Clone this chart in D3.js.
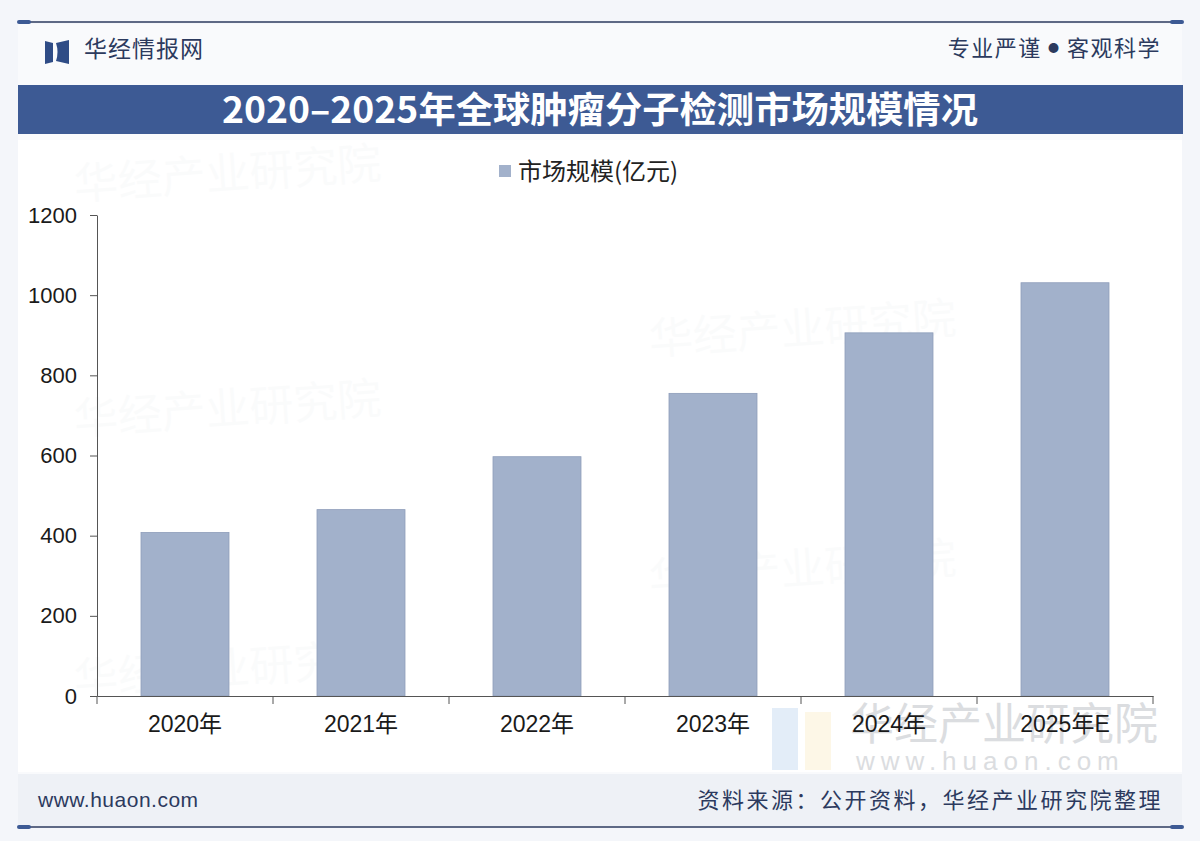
<!DOCTYPE html>
<html>
<head>
<meta charset="utf-8">
<script src="https://cdn.jsdelivr.net/npm/d3@7"></script>
<style>
  body { margin: 0; background: #f4f6fa; }
  svg { display: block; }
</style>
</head>
<body>
<svg id="chart" width="1200" height="841"></svg>
<script>
// data
const years = ['2020年', '2021年', '2022年', '2023年', '2024年', '2025年E']
const marketSize = [408, 465, 597, 755, 906, 1031]
const yTicks = [0, 200, 400, 600, 800, 1000, 1200]
const seriesName = '市场规模(亿元)'

const cjk = '"Noto Sans CJK SC", sans-serif'
const latin = '"Liberation Sans", "Noto Sans CJK SC", sans-serif'
const navy = '#2c3a5e'

let svg = d3.select('#chart')

// page background + white content area
svg.append('rect').attr('width', 1200).attr('height', 841).attr('fill', '#f4f6fa')
svg.append('rect').attr('x', 18).attr('y', 24).attr('width', 1164).attr('height', 802).attr('fill', '#f9fafc')
svg.append('rect').attr('x', 18).attr('y', 140).attr('width', 1164).attr('height', 632).attr('fill', '#ffffff')
// footer band
svg.append('rect').attr('x', 18).attr('y', 774).attr('width', 1164).attr('height', 52).attr('fill', '#eef1f6')

// top and bottom rules with little end caps
let rule = (yy) => {
  svg.append('line').attr('x1', 18).attr('x2', 1182).attr('y1', yy).attr('y2', yy)
    .attr('stroke', navy).attr('stroke-width', 1.5)
  svg.append('rect').attr('x', 17).attr('y', yy - 2).attr('width', 14).attr('height', 4).attr('rx', 2).attr('fill', '#3d5a94')
  svg.append('rect').attr('x', 1170).attr('y', yy - 2).attr('width', 14).attr('height', 4).attr('rx', 2).attr('fill', '#3d5a94')
}
rule(22)
rule(827)

// logo
let logo = svg.append('g').attr('fill', '#2f4c86')
logo.append('path').attr('d', 'M45,41 L53,43 L53,62 L45,64 Z')
logo.append('path').attr('d', 'M56,43 L69,40 L69,64 L56,61 Q59,52 56,43 Z')
svg.append('text').attr('x', 84).attr('y', 57).text('华经情报网')
  .attr('font-family', cjk).attr('font-size', 23).attr('fill', navy).attr('letter-spacing', 1)
let motto = svg.append('text').attr('x', 1161).attr('y', 56).attr('text-anchor', 'end')
  .attr('font-family', cjk).attr('font-size', 22).attr('fill', navy).attr('letter-spacing', 1.5)
motto.append('tspan').text('专业严谨 ')
motto.append('tspan').text('●').attr('font-size', 11).attr('dy', -4)
motto.append('tspan').text(' 客观科学').attr('dy', 4)

// title bar
svg.append('rect').attr('x', 18).attr('y', 85).attr('width', 1165).attr('height', 49).attr('fill', '#3d5a94')
svg.append('text').attr('x', 600).attr('y', 123).attr('text-anchor', 'middle')
  .text('2020–2025年全球肿瘤分子检测市场规模情况')
  .attr('font-family', cjk).attr('font-weight', 'bold').attr('font-size', 36).attr('fill', '#ffffff')
  .attr('textLength', 756).attr('lengthAdjust', 'spacingAndGlyphs')

// faint watermarks
let marks = [[75, 200], [650, 355], [75, 435], [650, 595], [75, 695]]
marks.forEach(m => {
  svg.append('text').attr('x', m[0]).attr('y', m[1]).text('华经产业研究院')
    .attr('transform', `rotate(-4, ${m[0]}, ${m[1]})`)
    .attr('font-family', cjk).attr('font-size', 44).attr('fill', '#8090a8').attr('opacity', 0.03)
})
svg.append('rect').attr('x', 772).attr('y', 708).attr('width', 26).attr('height', 62).attr('fill', '#c8dcf2').attr('opacity', 0.5)
svg.append('rect').attr('x', 805).attr('y', 712).attr('width', 26).attr('height', 58).attr('fill', '#fbf0d0').attr('opacity', 0.5)
svg.append('text').attr('x', 850).attr('y', 740).text('华经产业研究院')
  .attr('font-family', cjk).attr('font-size', 44).attr('fill', '#c4c7cc').attr('opacity', 0.6)
svg.append('text').attr('x', 856).attr('y', 770).text('www.huaon.com')
  .attr('font-family', latin).attr('font-size', 26).attr('fill', '#c4c7cc').attr('opacity', 0.6).attr('letter-spacing', 6)

// legend
svg.append('rect').attr('x', 499).attr('y', 165).attr('width', 12).attr('height', 12).attr('fill', '#a2b1cb')
svg.append('text').attr('x', 518).attr('y', 180).text(seriesName)
  .attr('font-family', cjk).attr('font-size', 24).attr('fill', '#222')

// scales
let x = d3.scaleBand().domain(years).range([97, 1153]).paddingInner(0.5).paddingOuter(0.25)
let y = d3.scaleLinear().domain([0, 1200]).range([696, 215])

// bars
svg.append('g').selectAll('rect').data(marketSize).join('rect')
  .attr('x', (d, i) => x(years[i]))
  .attr('y', d => y(d))
  .attr('width', x.bandwidth())
  .attr('height', d => y(0) - y(d))
  .attr('fill', '#a2b1cb')
  .attr('stroke', '#8e9dba').attr('stroke-width', 0.8)

// y axis
let yAxis = svg.append('g').attr('transform', `translate(${x.range()[0]},0)`)
  .call(d3.axisLeft(y).tickValues(yTicks).tickFormat(d3.format('d')).tickSize(7).tickSizeOuter(0).tickPadding(13))
yAxis.select('.domain').attr('stroke', '#555')
yAxis.selectAll('.tick line').attr('stroke', '#555')
yAxis.selectAll('text').attr('font-family', latin).attr('font-size', 22).attr('fill', '#1a1a1a')

// x axis: labels centred, ticks at category boundaries
let xAxis = svg.append('g').attr('transform', `translate(0,${y(0)})`)
  .call(d3.axisBottom(x).tickSize(0).tickPadding(20))
xAxis.select('.domain').attr('stroke', '#555')
xAxis.selectAll('text').attr('font-family', latin).attr('font-size', 23).attr('fill', '#1a1a1a')
let bounds = d3.range(years.length + 1).map(i => x.range()[0] + i * x.step())
xAxis.selectAll('.bound').data(bounds).join('line').attr('class', 'bound')
  .attr('x1', d => d).attr('x2', d => d).attr('y1', 0).attr('y2', 8)
  .attr('stroke', '#555')

// footer
svg.append('text').attr('x', 38).attr('y', 807).text('www.huaon.com')
  .attr('font-family', latin).attr('font-size', 21).attr('fill', navy).attr('letter-spacing', 0.5)
svg.append('text').attr('x', 1163).attr('y', 808).attr('text-anchor', 'end').text('资料来源：公开资料，华经产业研究院整理')
  .attr('font-family', cjk).attr('font-size', 22).attr('fill', navy).attr('letter-spacing', 2.5)
</script>
</body>
</html>
